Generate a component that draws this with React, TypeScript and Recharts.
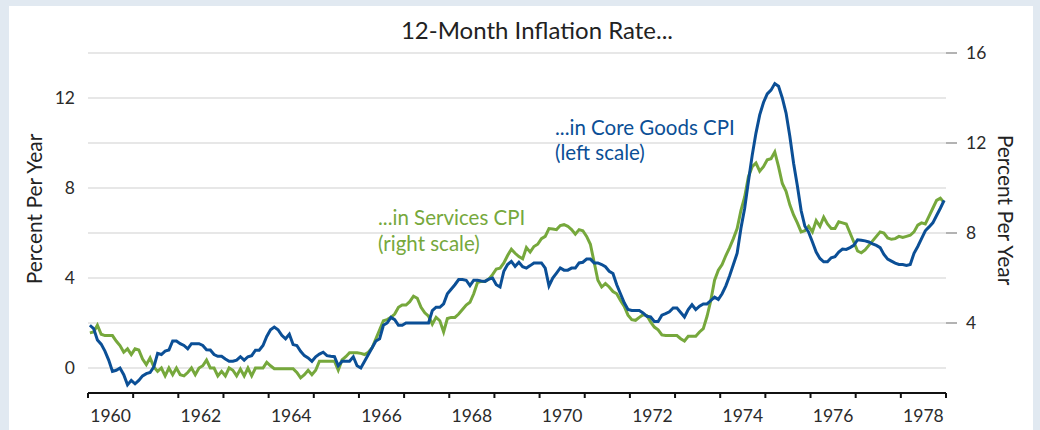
import React from "react";
import { LineChart, Line, XAxis, YAxis, ReferenceLine } from "recharts";

const W = 1040;
const H = 430;
const FONT = "Lato, 'Open Sans', sans-serif";
const BLUE = "#0b4f96";
const GREEN = "#76a83c";
const TEXT = "#2b2b2b";

const startYear = 1960;
const yearTicks = [1960, 1961, 1962, 1963, 1964, 1965, 1966, 1967, 1968, 1969, 1970, 1971, 1972, 1973, 1974, 1975, 1976, 1977, 1978, 1979];
const leftTicks = [0, 4, 8, 12];
const rightTicks = [4, 8, 12, 16];
const gridValues = [0, 2, 4, 6, 8, 10, 12, 14];

// 12-month % change, core goods CPI (left scale), monthly Jan 1960 - Dec 1978
const coreGoods = [
  1.9, 1.75, 1.25, 1.06, 0.75, 0.35, -0.15, -0.1, 0.0, -0.3, -0.75, -0.55, // 1960
  -0.7, -0.55, -0.35, -0.25, -0.2, 0.05, 0.65, 0.6, 0.75, 0.8, 1.2, 1.2, // 1961
  1.08, 1.0, 0.85, 1.08, 1.08, 1.08, 1.0, 0.81, 0.8, 0.6, 0.52, 0.52, // 1962
  0.4, 0.3, 0.3, 0.35, 0.5, 0.35, 0.5, 0.55, 0.79, 0.79, 1.0, 1.4, // 1963
  1.7, 1.82, 1.7, 1.45, 1.3, 1.5, 1.04, 1.0, 0.74, 0.55, 0.45, 0.3, // 1964
  0.5, 0.62, 0.7, 0.55, 0.52, 0.5, 0.1, 0.3, 0.3, 0.3, 0.5, 0.1, // 1965
  0.0, 0.3, 0.6, 0.9, 1.2, 1.3, 1.9, 2.0, 2.25, 2.15, 1.9, 1.9, // 1966
  2.0, 2.0, 2.0, 2.0, 2.0, 2.0, 2.0, 2.55, 2.7, 2.7, 2.85, 3.3, // 1967
  3.5, 3.7, 3.93, 3.93, 3.9, 3.66, 3.9, 3.9, 3.87, 3.85, 3.95, 4.0, // 1968
  3.7, 3.6, 4.3, 4.6, 4.74, 4.52, 4.7, 4.5, 4.44, 4.55, 4.67, 4.67, // 1969
  4.67, 4.44, 3.65, 4.0, 4.22, 4.45, 4.35, 4.35, 4.44, 4.44, 4.67, 4.7, // 1970
  4.84, 4.84, 4.67, 4.67, 4.6, 4.5, 4.3, 4.2, 3.7, 3.3, 2.9, 2.6, // 1971
  2.56, 2.56, 2.56, 2.45, 2.3, 2.27, 2.07, 2.07, 2.35, 2.42, 2.5, 2.67, // 1972
  2.67, 2.47, 2.27, 2.6, 2.81, 2.6, 2.75, 2.85, 2.85, 3.0, 3.15, 3.05, // 1973
  3.3, 3.65, 4.1, 4.6, 5.1, 6.2, 7.1, 8.3, 9.45, 10.44, 11.25, 11.8, // 1974
  12.18, 12.35, 12.64, 12.52, 12.0, 11.33, 10.3, 9.1, 8.1, 7.0, 6.3, 6.03, // 1975
  5.6, 5.15, 4.87, 4.72, 4.72, 4.9, 4.95, 5.15, 5.29, 5.27, 5.35, 5.45, // 1976
  5.7, 5.68, 5.65, 5.6, 5.52, 5.45, 5.35, 5.05, 4.84, 4.75, 4.66, 4.6, // 1977
  4.6, 4.56, 4.6, 5.1, 5.4, 5.75, 6.1, 6.27, 6.45, 6.78, 7.1, 7.45, // 1978
];

// 12-month % change, services CPI (right scale)
const services = [
  3.56, 3.6, 3.9, 3.5, 3.44, 3.44, 3.44, 3.2, 3.0, 2.7, 2.85, 2.6, // 1960
  2.85, 2.8, 2.4, 2.15, 2.45, 2.05, 1.85, 2.0, 1.65, 2.0, 1.7, 2.0, // 1961
  1.7, 1.65, 1.8, 2.0, 1.7, 2.0, 2.1, 2.35, 2.0, 2.0, 1.65, 1.85, // 1962
  1.65, 2.0, 1.9, 1.65, 1.95, 1.65, 2.0, 1.65, 2.0, 2.0, 2.0, 2.25, // 1963
  2.1, 1.97, 1.97, 1.97, 1.97, 1.97, 1.97, 1.8, 1.56, 1.7, 1.9, 1.7, // 1964
  1.9, 2.3, 2.3, 2.3, 2.3, 2.3, 1.9, 2.36, 2.5, 2.68, 2.68, 2.68, // 1965
  2.65, 2.6, 2.7, 2.9, 3.3, 3.7, 4.1, 4.15, 4.25, 4.4, 4.7, 4.8, // 1966
  4.8, 4.95, 5.19, 5.1, 4.7, 4.45, 4.3, 3.95, 4.25, 4.1, 3.6, 4.2, // 1967
  4.25, 4.25, 4.4, 4.6, 4.8, 4.92, 5.3, 5.8, 5.85, 5.85, 5.95, 6.15, // 1968
  6.4, 6.44, 6.67, 7.0, 7.28, 7.1, 6.95, 6.85, 7.35, 7.15, 7.4, 7.5, // 1969
  7.75, 7.85, 8.2, 8.18, 8.15, 8.33, 8.37, 8.3, 8.15, 7.95, 8.15, 8.1, // 1970
  7.85, 7.5, 6.7, 5.9, 5.6, 5.75, 5.6, 5.4, 5.3, 5.0, 4.74, 4.35, // 1971
  4.15, 4.12, 4.25, 4.37, 4.33, 4.05, 3.82, 3.7, 3.47, 3.44, 3.44, 3.44, // 1972
  3.44, 3.3, 3.2, 3.41, 3.41, 3.41, 3.6, 3.75, 4.3, 5.0, 5.9, 6.35, // 1973
  6.6, 7.0, 7.35, 7.75, 8.2, 9.0, 9.6, 10.5, 10.95, 11.11, 10.75, 10.95, // 1974
  11.25, 11.3, 11.6, 10.95, 10.2, 9.85, 9.25, 8.8, 8.45, 8.05, 8.1, 8.3, // 1975
  8.05, 8.55, 8.3, 8.7, 8.4, 8.2, 8.2, 8.5, 8.45, 8.4, 8.0, 7.6, // 1976
  7.2, 7.12, 7.25, 7.45, 7.65, 7.85, 8.05, 8.0, 7.78, 7.72, 7.75, 7.85, // 1977
  7.8, 7.85, 7.9, 8.05, 8.35, 8.45, 8.4, 8.75, 9.1, 9.45, 9.55, 9.35, // 1978
];

const data = coreGoods.map((v, i) => ({
  t: startYear + (i + 0.5) / 12,
  core: v,
  services: services[i],
}));

const MARGIN = { top: 53, right: 0, bottom: 0, left: 0 };
const LEFT_W = 88;
const RIGHT_W = 94;
const X_H = 37;
const halfYear = (W - LEFT_W - RIGHT_W) / (yearTicks.length - 1) / 2;

function YearTick({ x, y, payload }: any) {
  const yr = payload.value;
  if (yr % 2 !== 0 || yr >= 1979) return null;
  return (
    <text x={x + halfYear} y={y + 22} textAnchor="middle" fill={TEXT} fontSize={17.5} fontFamily={FONT}>
      {yr}
    </text>
  );
}

export default function App() {
  return (
    <div style={{ position: "absolute", left: 0, top: 0, width: W, height: H, background: "#e1e9f1", overflow: "hidden" }}>
      <div style={{ position: "absolute", left: 9, top: 6, width: 1024, height: H, background: "#fff" }} />
      <div style={{ position: "absolute", left: 0, top: 0 }}>
        <LineChart width={W} height={H} data={data} margin={MARGIN}>
          <XAxis
            dataKey="t"
            type="number"
            domain={[1960, 1979]}
            ticks={yearTicks}
            height={X_H}
            axisLine={{ stroke: "#111", strokeWidth: 2 }}
            tickLine={{ stroke: "#111", strokeWidth: 2 }}
            tickSize={5}
            tick={<YearTick />}
            interval={0}
          />
          <YAxis
            yAxisId="left"
            domain={[-10 / 9, 14]}
            ticks={leftTicks}
            width={LEFT_W}
            axisLine={false}
            tickLine={false}
            tickMargin={7}
            interval={0}
            tick={{ fill: TEXT, fontSize: 17.5, fontFamily: FONT }}
            allowDataOverflow
          />
          <YAxis
            yAxisId="right"
            orientation="right"
            domain={[2 - 10 / 9, 16]}
            ticks={rightTicks}
            width={RIGHT_W}
            axisLine={false}
            tickLine={{ stroke: "#9a9a9a", strokeWidth: 1.5 }}
            tickSize={11}
            tickMargin={9}
            interval={0}
            tick={{ fill: TEXT, fontSize: 17.5, fontFamily: FONT }}
            allowDataOverflow
          />
          {gridValues.map((g) => (
            <ReferenceLine key={g} yAxisId="left" y={g} stroke="#d0d0d0" strokeWidth={1.2} />
          ))}
          <Line
            yAxisId="right"
            dataKey="services"
            stroke={GREEN}
            strokeWidth={3}
            dot={false}
            type="linear"
            isAnimationActive={false}
          />
          <Line
            yAxisId="left"
            dataKey="core"
            stroke={BLUE}
            strokeWidth={3}
            dot={false}
            type="linear"
            isAnimationActive={false}
          />
        </LineChart>
      </div>
      <svg width={W} height={H} style={{ position: "absolute", left: 0, top: 0, pointerEvents: "none" }} fontFamily={FONT}>
        <text x={537} y={39} textAnchor="middle" fontSize={24} fill="#222">
          12-Month Inflation Rate...
        </text>
        <text x={555} y={135} fontSize={20.5} fill={BLUE}>...in Core Goods CPI</text>
        <text x={555} y={160} fontSize={20.5} fill={BLUE}>(left scale)</text>
        <text x={378} y={225} fontSize={20.5} fill={GREEN}>...in Services CPI</text>
        <text x={378} y={251} fontSize={20.5} fill={GREEN}>(right scale)</text>
        <text transform="translate(42,209) rotate(-90)" textAnchor="middle" fontSize={21} fill="#222">
          Percent Per Year
        </text>
        <text transform="translate(998,210) rotate(90)" textAnchor="middle" fontSize={21} fill="#222">
          Percent Per Year
        </text>
      </svg>
    </div>
  );
}
